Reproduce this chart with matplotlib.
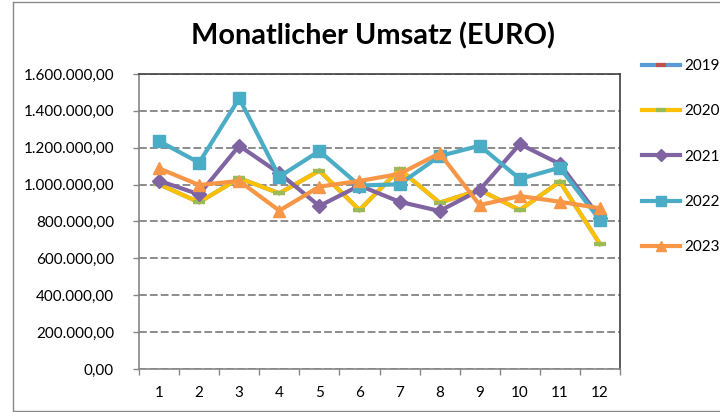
import matplotlib
matplotlib.use("Agg")
import matplotlib.pyplot as plt
from matplotlib.ticker import FuncFormatter, FixedLocator
from matplotlib.lines import Line2D

months = [1, 2, 3, 4, 5, 6, 7, 8, 9, 10, 11, 12]
s2020 = [1002000, 904000, 1035000, 953000, 1076000, 862000, 1083000, 902000, 971000, 862000, 1016000, 678000]
s2019 = list(s2020)
s2021 = [1021000, 947000, 1211000, 1062000, 884000, 995000, 907000, 857000, 971000, 1220000, 1112000, 820000]
s2022 = [1236000, 1119000, 1468000, 1043000, 1182000, 995000, 1002000, 1155000, 1211000, 1031000, 1092000, 808000]
s2023 = [1088000, 998000, 1020000, 859000, 989000, 1020000, 1058000, 1170000, 889000, 938000, 907000, 872000]
labels = ["2019", "2020", "2021", "2022", "2023"]
title = "Monatlicher Umsatz (EURO)"

plt.rcParams['font.family'] = ['Lato', 'DejaVu Sans']

fig = plt.figure(figsize=(7.2, 4.12), dpi=100)
ax = fig.add_axes([139/720, 43/412, 481/720, 295/412])

series = [
    (s2019, '#5B9BD5', '_', '#C0504D', 8),
    (s2020, '#FFC000', '_', '#9BBB59', 8),
    (s2021, '#8064A2', 'D', '#8064A2', 7),
    (s2022, '#4BACC6', 's', '#4BACC6', 8),
    (s2023, '#F79646', '^', '#F79646', 8.5),
]
handles = []
for (vals, col, mk, mcol, ms), lab in zip(series, labels):
    mew = 3 if mk == '_' else 1
    ln, = ax.plot(months, vals, color=col, lw=3, marker=mk, markersize=ms,
                  markerfacecolor=mcol, markeredgecolor=mcol, markeredgewidth=mew,
                  label=lab, solid_joinstyle='miter')
    handles.append(ln)

ax.set_xlim(0.5, 12.5)
ax.set_ylim(0, 1600000)
ax.set_yticks(range(0, 1600001, 200000))
ax.yaxis.set_major_formatter(FuncFormatter(
    lambda v, p: f"{v:,.2f}".replace(",", "X").replace(".", ",").replace("X", ".")))
ax.set_xticks(months)
ax.set_xticklabels([str(m) for m in months])
ax.xaxis.set_minor_locator(FixedLocator([m + 0.5 for m in range(0, 13)]))
ax.tick_params(axis='x', which='major', length=0, pad=12, labelsize=11, colors='black')
ax.tick_params(axis='x', which='minor', length=4, color='#868686', width=1)
ax.tick_params(axis='y', which='major', length=4, color='#868686', width=1, pad=14, labelsize=11)

ax.grid(axis='y', color='#8c8c8c', lw=1.4, ls=(0, (4, 1.6)))
ax.set_axisbelow(True)
for s in ['left', 'bottom']:
    ax.spines[s].set_color('#868686')
    ax.spines[s].set_linewidth(1.2)
for s in ['top', 'right']:
    ax.spines[s].set_color('#404040')
    ax.spines[s].set_linewidth(1.2)

fig.text(373/720, 1 - 36/412, title, ha='center', va='center', fontsize=20.8, fontweight='bold')

leg = fig.legend(handles=handles, loc='upper left', bbox_to_anchor=(642/720, 1 - 59/412),
                 frameon=False, fontsize=11, labelspacing=2.05, handlelength=2.5,
                 handletextpad=0.25, borderaxespad=0, borderpad=0, markerscale=0.85)

# outer chart border
fig.add_artist(Line2D([13/720, 13/720], [1/412, 410/412], transform=fig.transFigure, color='#8a8a8a', lw=1))
fig.add_artist(Line2D([13/720, 1.0], [410/412, 410/412], transform=fig.transFigure, color='#8a8a8a', lw=1))
fig.add_artist(Line2D([13/720, 1.0], [1/412, 1/412], transform=fig.transFigure, color='#8a8a8a', lw=1))

fig.savefig("out.png", dpi=100)
